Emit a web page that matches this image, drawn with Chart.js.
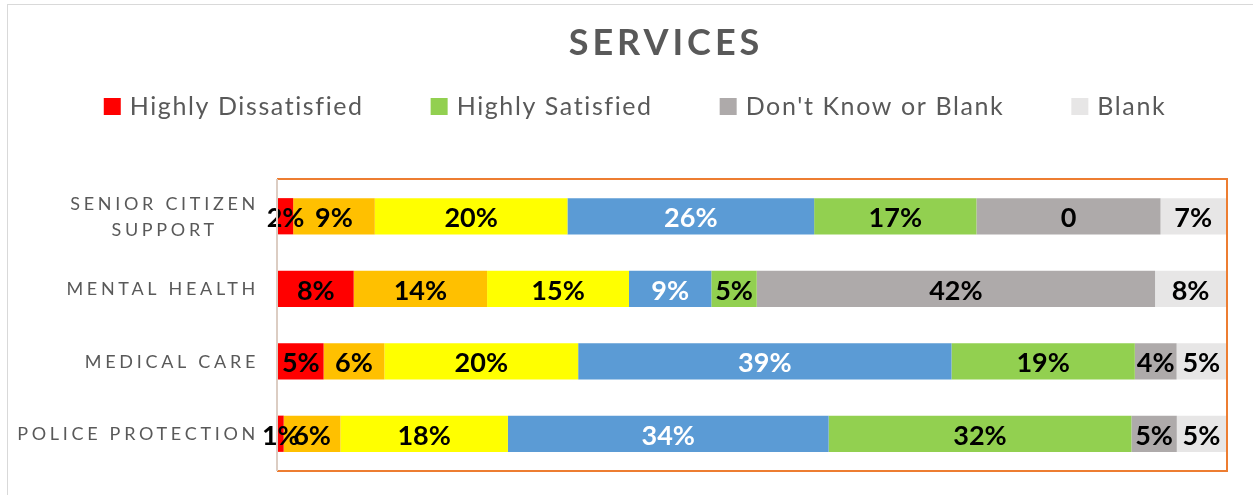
<!DOCTYPE html>
<html>
<head>
<meta charset="utf-8">
<title>Services</title>
<script src="https://cdn.jsdelivr.net/npm/chart.js@4.4.1/dist/chart.umd.min.js"></script>
<style>
  html, body { margin: 0; padding: 0; background: #fff; }
  #wrap { position: relative; width: 1253px; height: 495px; }
</style>
</head>
<body>
<div id="wrap"><canvas id="servicesChart"></canvas></div>
<script>
// ---------------- DATA ----------------
const categories = [["SENIOR CITIZEN", "SUPPORT"], "MENTAL HEALTH", "MEDICAL CARE", "POLICE PROTECTION"];

const highlyDissatisfied = [1.6, 8.0, 4.8, 0.6];
const dissatisfied       = [8.6, 14.1, 6.4, 6.0];
const neutral            = [20.3, 15.0, 20.4, 17.7];
const satisfied          = [26.0, 8.7, 39.3, 33.9];
const highlySatisfied    = [17.1, 4.8, 19.3, 32.0];
const dontKnow           = [19.4, 42.1, 4.4, 4.8];
const blank              = [6.9, 7.5, 5.2, 5.2];

// the senior citizen "don't know" cell is shown as a plain number in the original
const dontKnowShown = ["0", null, null, null];

const seriesNames  = ["Highly Dissatisfied", "Dissatisfied", "Neutral", "Satisfied", "Highly Satisfied", "Don't Know or Blank", "Blank"];
const seriesValues = [highlyDissatisfied, dissatisfied, neutral, satisfied, highlySatisfied, dontKnow, blank];
const seriesColors = ["#FF0000", "#FFC000", "#FFFF00", "#5B9BD5", "#92D050", "#AEAAAA", "#E7E6E6"];
const legendNames  = ["Highly Dissatisfied", "Highly Satisfied", "Don't Know or Blank", "Blank"];

// 100% stacked: each row is scaled to its own total
const rowTotals = categories.map((_, i) => seriesValues.reduce((s, arr) => s + arr[i], 0));

const datasets = seriesNames.map((name, k) => ({
  label: name,
  data: seriesValues[k].map((v, i) => v / rowTotals[i] * 100),
  raw: seriesValues[k],
  shown: name === "Don't Know or Blank" ? dontKnowShown : null,
  backgroundColor: seriesColors[k],
  borderWidth: 0
}));

const GREY = "#595959";

// ---------------- FRAME + PLOT BORDER ----------------
const framePlugin = {
  id: "frame",
  beforeDraw(chart) {
    const ctx = chart.ctx;
    ctx.save();
    ctx.fillStyle = "#fff";
    ctx.fillRect(0, 0, chart.width, chart.height);
    ctx.strokeStyle = "#D9D9D9";
    ctx.lineWidth = 1;
    ctx.strokeRect(7.5, 4.5, chart.width + 20, chart.height + 20);
    ctx.restore();
  },
  afterDraw(chart) {
    const { ctx, chartArea: a } = chart;
    ctx.save();
    ctx.strokeStyle = "#ED7D31";
    ctx.lineWidth = 2;
    ctx.beginPath();
    ctx.moveTo(a.left - 1, a.top - 1);
    ctx.lineTo(a.right + 1, a.top - 1);
    ctx.lineTo(a.right + 1, a.bottom + 1);
    ctx.lineTo(a.left - 1, a.bottom + 1);
    ctx.stroke();
    ctx.strokeStyle = "#DCCDC3";
    ctx.beginPath();
    ctx.moveTo(a.left - 1, a.top - 1);
    ctx.lineTo(a.left - 1, a.bottom + 1);
    ctx.stroke();
    ctx.restore();
  }
};

// ---------------- TITLE / LEGEND / CATEGORY LABELS ----------------
const textPlugin = {
  id: "texts",
  afterDraw(chart) {
    const ctx = chart.ctx;
    ctx.save();

    // title
    ctx.fillStyle = GREY;
    ctx.font = "bold 36px Lato";
    ctx.letterSpacing = "4px";
    ctx.textAlign = "center";
    ctx.textBaseline = "alphabetic";
    ctx.fillText("SERVICES", 666, 55);

    // legend
    ctx.letterSpacing = "1.6px";
    ctx.font = "25px Lato";
    ctx.textAlign = "left";
    const box = 17, gapBox = 9, gapItem = 67;
    const items = legendNames.map(n => ({ name: n, w: box + gapBox + ctx.measureText(n).width }));
    const total = items.reduce((s, it) => s + it.w, 0) + gapItem * (items.length - 1);
    let x = 635 - total / 2;
    items.forEach(it => {
      ctx.fillStyle = seriesColors[seriesNames.indexOf(it.name)];
      ctx.fillRect(x, 98, box, box);
      ctx.fillStyle = GREY;
      ctx.fillText(it.name, x + box + gapBox, 115);
      x += it.w + gapItem;
    });

    // category labels
    const yScale = chart.scales.y;
    ctx.font = "18px Lato";
    ctx.letterSpacing = "3.7px";
    ctx.fillStyle = GREY;
    const rightEdge = 259;
    categories.forEach((cat, i) => {
      const lines = Array.isArray(cat) ? cat : [cat];
      const cy = yScale.getPixelForValue(i);
      const widths = lines.map(l => ctx.measureText(l).width);
      const W = Math.max(...widths);
      const left = rightEdge - W;
      const lh = 25.7;
      const first = cy + 6.5 - (lines.length - 1) * lh / 2;
      lines.forEach((l, j) => {
        ctx.fillText(l, left + (W - widths[j]) / 2, first + j * lh);
      });
    });
    ctx.restore();
  }
};

// ---------------- DATA LABELS ----------------
const labelPlugin = {
  id: "barLabels",
  afterDatasetsDraw(chart) {
    const ctx = chart.ctx;
    ctx.save();
    ctx.font = "bold 27px Lato";
    ctx.textAlign = "center";
    ctx.textBaseline = "alphabetic";
    chart.data.datasets.forEach((ds, k) => {
      chart.getDatasetMeta(k).data.forEach((bar, i) => {
        const txt = (ds.shown && ds.shown[i]) || Math.round(ds.raw[i]) + "%";
        ctx.fillStyle = ds.label === "Satisfied" ? "#FFFFFF" : "#000000";
        ctx.fillText(txt, (bar.x + bar.base) / 2, bar.y + 11);
      });
    });
    ctx.restore();
  }
};

// ---------------- CHART ----------------
new Chart(document.getElementById("servicesChart"), {
  type: "bar",
  data: { labels: categories, datasets: datasets },
  options: {
    indexAxis: "y",
    responsive: true,
    maintainAspectRatio: false,
    animation: false,
    layout: { padding: { left: 278, right: 27, top: 180, bottom: 25 } },
    datasets: { bar: { barPercentage: 0.5, categoryPercentage: 1 } },
    scales: {
      x: { stacked: true, min: 0, max: 100, display: false },
      y: { stacked: true, display: false }
    },
    plugins: {
      legend: { display: false },
      title: { display: false },
      tooltip: { enabled: false }
    }
  },
  plugins: [framePlugin, textPlugin, labelPlugin]
});
</script>
</body>
</html>
